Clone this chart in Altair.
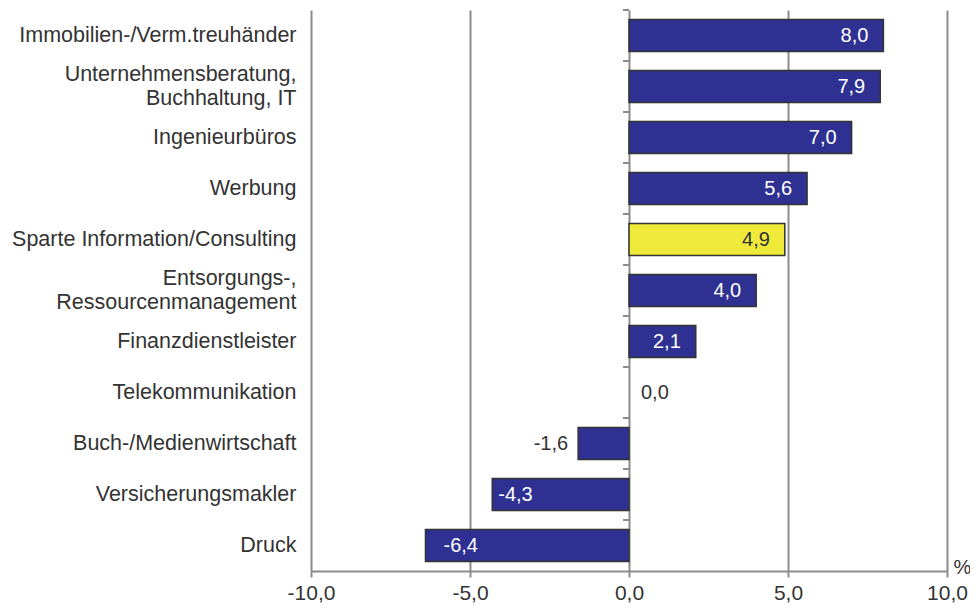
import altair as alt
import pandas as pd

categories = [
    "Immobilien-/Verm.treuhänder",
    "Unternehmensberatung,|Buchhaltung, IT",
    "Ingenieurbüros",
    "Werbung",
    "Sparte Information/Consulting",
    "Entsorgungs-,|Ressourcenmanagement",
    "Finanzdienstleister",
    "Telekommunikation",
    "Buch-/Medienwirtschaft",
    "Versicherungsmakler",
    "Druck",
]
values = [8.0, 7.9, 7.0, 5.6, 4.9, 4.0, 2.1, 0.0, -1.6, -4.3, -6.4]
highlight = "Sparte Information/Consulting"
x_ticks = [-10, -5, 0, 5, 10]
x_domain = [-10, 10]

df = pd.DataFrame({"cat": categories, "value": values})
df["label"] = [f"{v:.1f}".replace(".", ",") for v in values]
df["hl"] = df["cat"] == highlight

FONT = "Liberation Sans"
GRID = "#8c8c8c"
BLUE = "#2e3192"
YELLOW = "#efea3a"
DARK = "#333333"

y_enc = alt.Y(
    "cat:N",
    sort=categories,
    scale=alt.Scale(paddingInner=0, paddingOuter=0),
    axis=alt.Axis(
        title=None,
        labelExpr="split(datum.label, '|')",
        domain=False,
        ticks=False,
        grid=False,
        labelPadding=15,
        labelFontSize=21.5,
        labelFont=FONT,
        labelColor=DARK,
        labelLineHeight=24,
        labelLimit=400,
        labelAlign="right",
        labelOffset={
            "condition": {"test": "indexof(datum.value, '|') >= 0", "value": -12},
            "value": 0,
        },
    ),
)

x_enc = alt.X(
    "value:Q",
    scale=alt.Scale(domain=x_domain, nice=False, zero=False),
    axis=alt.Axis(
        values=x_ticks,
        labelExpr="replace(replace(format(datum.value, '.1f'), '.', ','), '−', '-')",
        title="%",
        titleX=651,
        titleY=-4,
        titleAlign="center",
        titleBaseline="middle",
        titleAngle=0,
        titleFont=FONT,
        titleFontSize=20,
        titleFontWeight="normal",
        titleColor=DARK,
        grid=True,
        gridColor=GRID,
        gridWidth=2,
        domainColor=GRID,
        domainWidth=2,
        tickColor=GRID,
        tickWidth=2,
        tickSize=6,
        labelPadding=5,
        labelFont=FONT,
        labelFontSize=21,
        labelColor=DARK,
        labelFlush=False,
    ),
)

base = alt.Chart(df)

bars = base.mark_bar(height=alt.RelativeBandSize(0.625), stroke=DARK).encode(
    y=y_enc,
    x=x_enc,
    x2=alt.datum(0),
    color=alt.condition("datum.hl", alt.value(YELLOW), alt.value(BLUE)),
    strokeWidth=alt.condition("datum.value == 0", alt.value(0), alt.value(1.5)),
)

band_ticks = base.mark_rule(color=GRID, strokeWidth=2, x2Offset=-6).encode(
    y=alt.Y("cat:N", sort=categories, bandPosition=0),
    x=alt.datum(0),
    x2=alt.datum(0),
)


def labels(filt, align, dx):
    return base.transform_filter(filt).mark_text(
        align=align, baseline="middle", dx=dx, font=FONT, fontSize=20
    ).encode(
        y=alt.Y("cat:N", sort=categories),
        x=alt.X("value:Q"),
        text="label:N",
        color=alt.condition("datum.hl", alt.value(DARK), alt.value("white")),
    )


lab_pos = labels("datum.value >= 1", "right", -15)
lab_neg_mid = labels("datum.value <= -2 && datum.value > -5", "left", 6)
lab_neg_big = labels("datum.value <= -5", "left", 18)

lab_zero = base.transform_filter("datum.value == 0").mark_text(
    align="left", baseline="middle", dx=12, font=FONT, fontSize=20, color=DARK
).encode(y=alt.Y("cat:N", sort=categories), x="value:Q", text="label:N")

lab_small_neg = base.transform_filter("datum.value < 0 && datum.value > -2").mark_text(
    align="right", baseline="middle", dx=-10, font=FONT, fontSize=20, color=DARK
).encode(y=alt.Y("cat:N", sort=categories), x="value:Q", text="label:N")

chart = (
    alt.layer(bars, band_ticks, lab_pos, lab_neg_mid, lab_neg_big, lab_zero, lab_small_neg)
    .properties(
        width=636,
        height=561,
        autosize=alt.AutoSizeParams(type="none"),
        padding={"left": 303, "top": 2, "right": 23, "bottom": 33},
        background="white",
    )
    .configure_view(stroke=None)
)

chart.save("out.html", embed_options={"renderer": "svg", "actions": False})
